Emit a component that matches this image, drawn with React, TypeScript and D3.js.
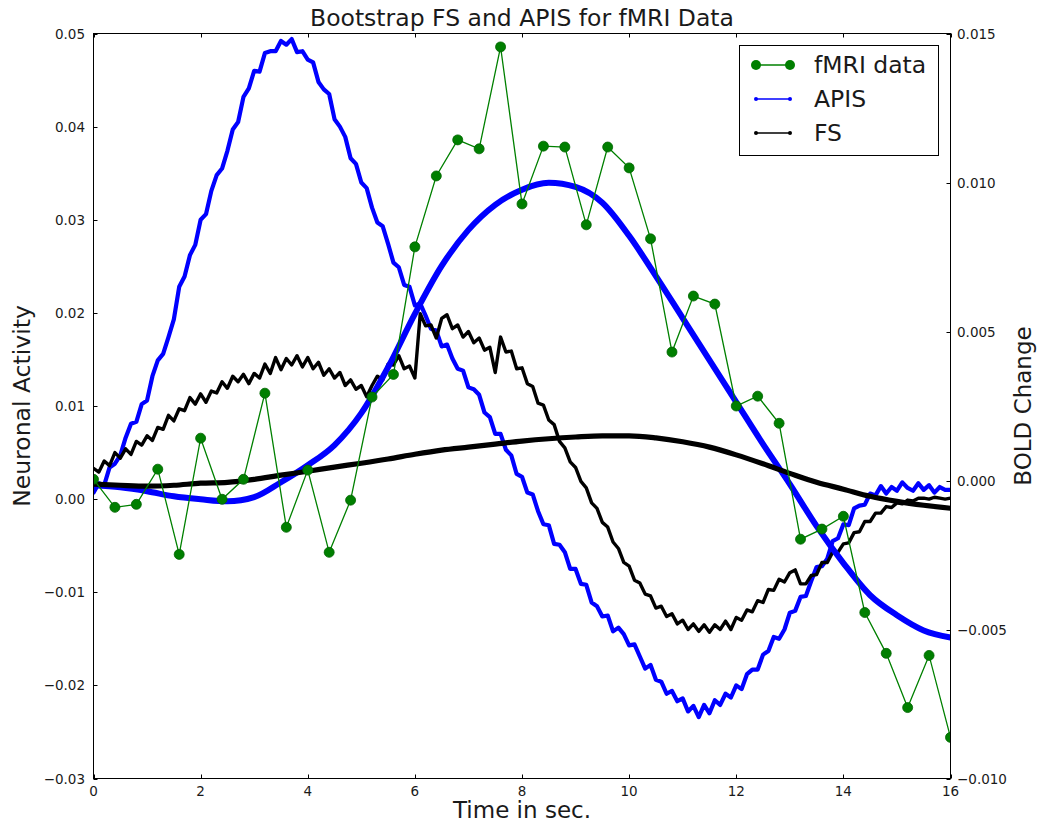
import React from 'react';
import * as d3 from 'd3';

// ---------------- data ----------------
const timeTicks = [0, 2, 4, 6, 8, 10, 12, 14, 16];
const leftTicks = [0.05, 0.04, 0.03, 0.02, 0.01, 0.0, -0.01, -0.02, -0.03];
const leftTickLabels = ['0.05', '0.04', '0.03', '0.02', '0.01', '0.00', '\u22120.01', '\u22120.02', '\u22120.03'];
const rightTicks = [0.015, 0.01, 0.005, 0.0, -0.005, -0.01];
const rightTickLabels = ['0.015', '0.010', '0.005', '0.000', '\u22120.005', '\u22120.010'];

const fmriTimes = [0, 0.4, 0.8, 1.2, 1.6, 2.0, 2.4, 2.8, 3.2, 3.6, 4.0, 4.4, 4.8, 5.2, 5.6, 6.0, 6.4, 6.8, 7.2, 7.6,
  8.0, 8.4, 8.8, 9.2, 9.6, 10.0, 10.4, 10.8, 11.2, 11.6, 12.0, 12.4, 12.8, 13.2, 13.6, 14.0, 14.4, 14.8, 15.2, 15.6, 16.0];
const fmriData = [0.00004, -0.0009, -0.0008, 0.00038, -0.00248, 0.00142, -0.00063, 0.00004, 0.00293, -0.00157,
  0.00035, -0.00241, -0.00066, 0.0028, 0.00356, 0.00784, 0.01022, 0.01143, 0.01113, 0.01455,
  0.00928, 0.01122, 0.01119, 0.00858, 0.01119, 0.01049, 0.00811, 0.00431, 0.00619, 0.00592,
  0.0025, 0.00283, 0.00192, -0.00197, -0.00163, -0.0012, -0.00443, -0.0058, -0.00762, -0.00587, -0.00862];

const boldTimes = [0, 0.5, 1, 1.5, 2, 2.5, 3, 3.5, 4, 4.5, 5, 5.5, 6, 6.5, 7, 7.5, 8, 8.5, 9, 9.5, 10,
  10.5, 11, 11.5, 12, 12.5, 13, 13.5, 14, 14.5, 15, 15.5, 16];
const apisBold = [-0.00016, -0.00023, -0.00036, -0.00053, -0.00063, -0.0007, -0.00056, -0.00006, 0.00051, 0.00119,
  0.00226, 0.0038, 0.00559, 0.0072, 0.00841, 0.00925, 0.00976, 0.00999, 0.00985, 0.00932,
  0.00821, 0.00686, 0.00545, 0.00404, 0.00263, 0.00122, -0.00012, -0.00153, -0.00277, -0.00385,
  -0.00452, -0.00503, -0.00527];
const fsBold = [-0.00012, -0.00016, -0.00019, -0.00016, -0.00009, -0.00006, 0.00004, 0.00018, 0.00031, 0.00045,
  0.00058, 0.00072, 0.00088, 0.00102, 0.00112, 0.00122, 0.00132, 0.0014, 0.00146, 0.0015,
  0.0015, 0.00143, 0.0013, 0.00112, 0.00086, 0.00056, 0.00024, -0.00006, -0.00029, -0.00053,
  -0.0007, -0.00083, -0.00093];

const NEURAL_STEP = 0.1; // seconds between neuronal samples
const apisNeural = [
  0.0007, 0.0017, 0.0015, 0.0034, 0.0038, 0.0047, 0.0066, 0.0081, 0.0083, 0.0102,
  0.0106, 0.0132, 0.0149, 0.0156, 0.0174, 0.0193, 0.0228, 0.0239, 0.0262, 0.0273,
  0.0300, 0.0306, 0.0331, 0.0348, 0.0355, 0.0374, 0.0397, 0.0405, 0.0432, 0.0441,
  0.0460, 0.0459, 0.0479, 0.0481, 0.0481, 0.0492, 0.0488, 0.0494, 0.0480, 0.0481,
  0.0472, 0.0469, 0.0448, 0.0440, 0.0435, 0.0408, 0.0400, 0.0389, 0.0366, 0.0360,
  0.0340, 0.0334, 0.0313, 0.0297, 0.0293, 0.0274, 0.0254, 0.0249, 0.0230, 0.0228,
  0.0208, 0.0210, 0.0197, 0.0183, 0.0181, 0.0164, 0.0166, 0.0151, 0.0140, 0.0138,
  0.0120, 0.0118, 0.0112, 0.0093, 0.0088, 0.0070, 0.0070, 0.0053, 0.0047, 0.0027,
  0.0024, 0.0007, 0.0005, -0.0013, -0.0027, -0.0028, -0.0048, -0.0049, -0.0057, -0.0075,
  -0.0075, -0.0091, -0.0092, -0.0111, -0.0115, -0.0126, -0.0125, -0.0142, -0.0138, -0.0145,
  -0.0157, -0.0156, -0.0169, -0.0182, -0.0178, -0.0194, -0.0196, -0.0209, -0.0206, -0.0217,
  -0.0214, -0.0228, -0.0222, -0.0234, -0.0221, -0.0230, -0.0216, -0.0221, -0.0209, -0.0213,
  -0.0200, -0.0204, -0.0188, -0.0183, -0.0183, -0.0167, -0.0163, -0.0148, -0.0150, -0.0140,
  -0.0122, -0.0120, -0.0105, -0.0104, -0.0088, -0.0073, -0.0072, -0.0064, -0.0045, -0.0042,
  -0.0027, -0.0028, -0.0010, -0.0007, -0.0006, 0.0006, 0.0004, 0.0014, 0.0006, 0.0013,
  0.0009, 0.0018, 0.0012, 0.0009, 0.0017, 0.0010, 0.0015, 0.0007, 0.0013, 0.0010,
  0.0010];
const fsNeural = [
  0.0033, 0.0029, 0.0041, 0.0036, 0.0050, 0.0044, 0.0054, 0.0048, 0.0062, 0.0058,
  0.0068, 0.0063, 0.0077, 0.0075, 0.0090, 0.0084, 0.0097, 0.0095, 0.0109, 0.0102,
  0.0113, 0.0104, 0.0116, 0.0114, 0.0126, 0.0119, 0.0132, 0.0126, 0.0134, 0.0124,
  0.0135, 0.0130, 0.0145, 0.0135, 0.0152, 0.0139, 0.0151, 0.0144, 0.0154, 0.0142,
  0.0152, 0.0140, 0.0147, 0.0133, 0.0140, 0.0130, 0.0136, 0.0122, 0.0128, 0.0118,
  0.0122, 0.0110, 0.0122, 0.0132, 0.0128, 0.0145, 0.0144, 0.0154, 0.0140, 0.0143,
  0.0130, 0.0199, 0.0186, 0.0187, 0.0173, 0.0194, 0.0198, 0.0183, 0.0187, 0.0174,
  0.0180, 0.0168, 0.0173, 0.0160, 0.0163, 0.0136, 0.0174, 0.0158, 0.0159, 0.0140,
  0.0141, 0.0124, 0.0121, 0.0103, 0.0101, 0.0085, 0.0080, 0.0062, 0.0055, 0.0040,
  0.0034, 0.0019, 0.0012, -0.0004, -0.0010, -0.0025, -0.0030, -0.0046, -0.0053, -0.0068,
  -0.0072, -0.0087, -0.0090, -0.0102, -0.0104, -0.0117, -0.0115, -0.0126, -0.0123, -0.0134,
  -0.0130, -0.0140, -0.0134, -0.0142, -0.0135, -0.0143, -0.0135, -0.0140, -0.0131, -0.0140,
  -0.0127, -0.0130, -0.0119, -0.0121, -0.0109, -0.0111, -0.0097, -0.0098, -0.0086, -0.0089,
  -0.0079, -0.0076, -0.0091, -0.0091, -0.0082, -0.0081, -0.0068, -0.0068, -0.0057, -0.0057,
  -0.0048, -0.0047, -0.0036, -0.0035, -0.0024, -0.0024, -0.0015, -0.0015, -0.0008, -0.0009,
  -0.0004, -0.0005, -0.0001, -0.0002, 0.0001, 0.0001, 0.0000, 0.0002, 0.0001, 0.0000,
  0.0001];

const legendItems = [
  { label: 'fMRI data', color: '#008000', marker: 5, width: 1.3 },
  { label: 'APIS', color: '#0000ff', marker: 2, width: 1.5 },
  { label: 'FS', color: '#000000', marker: 2, width: 1.5 },
];

// ---------------- layout ----------------
const W = 1038;
const H = 825;
const X0 = 93.5;
const X1 = 950.5;
const Y0 = 33.5;
const Y1 = 778.5;
const FONT = '"DejaVu Sans", Verdana, sans-serif';

export default function App() {
  const x = d3.scaleLinear().domain([0, 16]).range([X0, X1]);
  const yL = d3.scaleLinear().domain([-0.03, 0.05]).range([Y1, Y0]);
  const yR = d3.scaleLinear().domain([-0.01, 0.015]).range([Y1, Y0]);

  const neuralLine = d3
    .line<number>()
    .x((_, i) => x(i * NEURAL_STEP))
    .y((d) => yL(d));
  const boldLine = d3
    .line<number>()
    .x((_, i) => x(boldTimes[i]))
    .y((d) => yR(d))
    .curve(d3.curveMonotoneX);
  const fmriLine = d3
    .line<number>()
    .x((_, i) => x(fmriTimes[i]))
    .y((d) => yR(d));

  const tickColor = '#000';
  const textColor = '#1a1a1a';

  return (
    <svg
      width={W}
      height={H}
      viewBox={`0 0 ${W} ${H}`}
      style={{ position: 'absolute', left: 0, top: 0, background: '#fff' }}
      fontFamily={FONT}
    >
      <rect x={0} y={0} width={W} height={H} fill="#fff" />
      <defs>
        <clipPath id="plotClip">
          <rect x={X0} y={Y0} width={X1 - X0} height={Y1 - Y0} />
        </clipPath>
      </defs>

      <g clipPath="url(#plotClip)">
        <path d={neuralLine(apisNeural) || ''} fill="none" stroke="#0000ff" strokeWidth={4.2} strokeLinejoin="round" strokeLinecap="round" />
        <path d={neuralLine(fsNeural) || ''} fill="none" stroke="#000" strokeWidth={3.4} strokeLinejoin="round" strokeLinecap="round" />
        <path d={boldLine(apisBold) || ''} fill="none" stroke="#0000ff" strokeWidth={6} strokeLinecap="round" />
        <path d={boldLine(fsBold) || ''} fill="none" stroke="#000" strokeWidth={5.2} strokeLinecap="round" />
        <path d={fmriLine(fmriData) || ''} fill="none" stroke="#008000" strokeWidth={1.3} />
        {fmriData.map((d, i) => (
          <circle key={i} cx={x(fmriTimes[i])} cy={yR(d)} r={5} fill="#007f00" stroke="#006400" strokeWidth={0.8} />
        ))}
      </g>

      {/* frame */}
      <rect x={X0} y={Y0} width={X1 - X0} height={Y1 - Y0} fill="none" stroke={tickColor} strokeWidth={1} />

      {/* x ticks */}
      {timeTicks.map((t) => (
        <g key={'x' + t}>
          <line x1={Math.round(x(t)) + 0.5} x2={Math.round(x(t)) + 0.5} y1={Y1} y2={Y1 - 4} stroke={tickColor} />
          <line x1={Math.round(x(t)) + 0.5} x2={Math.round(x(t)) + 0.5} y1={Y0} y2={Y0 + 4} stroke={tickColor} />
          <text x={x(t)} y={796} fontSize={13.5} textAnchor="middle" fill={textColor}>
            {t}
          </text>
        </g>
      ))}

      {/* left ticks */}
      {leftTicks.map((v, i) => (
        <g key={'l' + i}>
          <line x1={X0} x2={X0 + 4} y1={Math.round(yL(v)) + 0.5} y2={Math.round(yL(v)) + 0.5} stroke={tickColor} />
          <text x={85} y={yL(v) + 5} fontSize={13.5} textAnchor="end" fill={textColor}>
            {leftTickLabels[i]}
          </text>
        </g>
      ))}

      {/* right ticks */}
      {rightTicks.map((v, i) => (
        <g key={'r' + i}>
          <line x1={X1} x2={X1 - 4} y1={Math.round(yR(v)) + 0.5} y2={Math.round(yR(v)) + 0.5} stroke={tickColor} />
          <text x={957} y={yR(v) + 5} fontSize={13.5} textAnchor="start" fill={textColor}>
            {rightTickLabels[i]}
          </text>
        </g>
      ))}

      {/* titles */}
      <text x={(X0 + X1) / 2} y={26} fontSize={23.5} textAnchor="middle" fill={textColor}>
        Bootstrap FS and APIS for fMRI Data
      </text>
      <text x={(X0 + X1) / 2} y={818} fontSize={23} textAnchor="middle" fill={textColor}>
        Time in sec.
      </text>
      <text transform={`translate(30, ${(Y0 + Y1) / 2}) rotate(-90)`} fontSize={23.5} textAnchor="middle" fill={textColor}>
        Neuronal Activity
      </text>
      <text transform={`translate(1031, ${(Y0 + Y1) / 2}) rotate(-90)`} fontSize={23} textAnchor="middle" fill={textColor}>
        BOLD Change
      </text>

      {/* legend */}
      <g>
        <rect x={739.5} y={45.5} width={199} height={110} fill="#fff" stroke="#000" strokeWidth={1} />
        {legendItems.map((it, i) => {
          const cy = 65 + i * 34;
          return (
            <g key={it.label}>
              <line x1={756} x2={790} y1={cy} y2={cy} stroke={it.color} strokeWidth={it.width} />
              <circle cx={756} cy={cy} r={it.marker} fill={it.color === '#008000' ? '#007f00' : it.color} />
              <circle cx={790} cy={cy} r={it.marker} fill={it.color === '#008000' ? '#007f00' : it.color} />
              <text x={814} y={cy + 8} fontSize={23.5} fill={textColor}>
                {it.label}
              </text>
            </g>
          );
        })}
      </g>
    </svg>
  );
}
